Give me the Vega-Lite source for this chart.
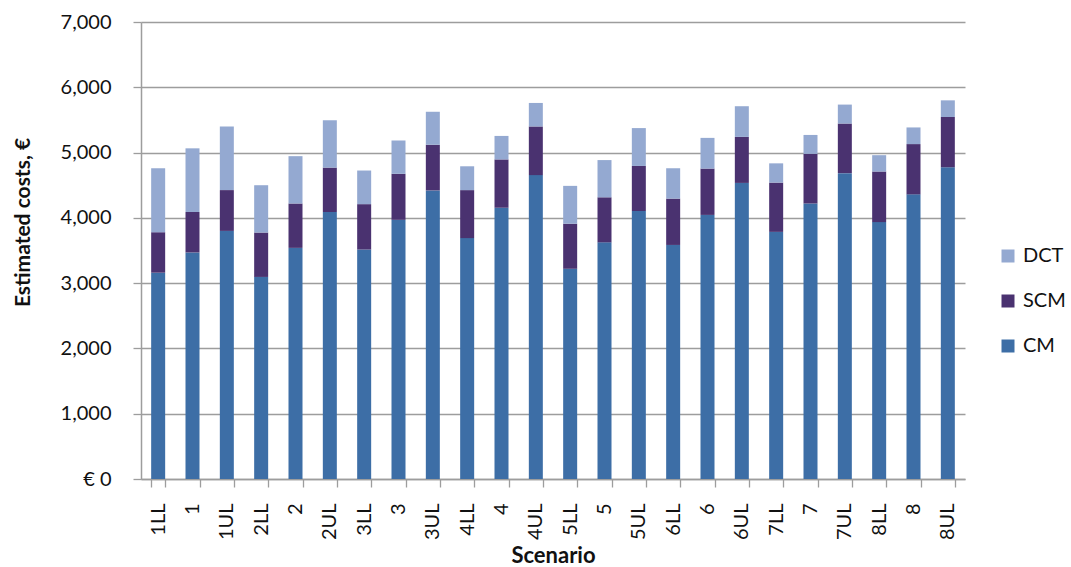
{
  "$schema": "https://vega.github.io/schema/vega-lite/v6.json",
  "width": 824,
  "height": 457,
  "autosize": {"type": "none"},
  "padding": {"left": 141, "top": 22, "right": 106, "bottom": 88},
  "background": "white",
  "config": {"view": {"stroke": null}, "font": "Lato"},
  "data": {
    "values": [
      {"scenario": "1LL", "component": "CM", "cost": 3160}, {"scenario": "1LL", "component": "SCM", "cost": 620}, {"scenario": "1LL", "component": "DCT", "cost": 980},
      {"scenario": "1", "component": "CM", "cost": 3470}, {"scenario": "1", "component": "SCM", "cost": 620}, {"scenario": "1", "component": "DCT", "cost": 975},
      {"scenario": "1UL", "component": "CM", "cost": 3800}, {"scenario": "1UL", "component": "SCM", "cost": 625}, {"scenario": "1UL", "component": "DCT", "cost": 975},
      {"scenario": "2LL", "component": "CM", "cost": 3095}, {"scenario": "2LL", "component": "SCM", "cost": 680}, {"scenario": "2LL", "component": "DCT", "cost": 725},
      {"scenario": "2", "component": "CM", "cost": 3540}, {"scenario": "2", "component": "SCM", "cost": 680}, {"scenario": "2", "component": "DCT", "cost": 725},
      {"scenario": "2UL", "component": "CM", "cost": 4090}, {"scenario": "2UL", "component": "SCM", "cost": 680}, {"scenario": "2UL", "component": "DCT", "cost": 725},
      {"scenario": "3LL", "component": "CM", "cost": 3515}, {"scenario": "3LL", "component": "SCM", "cost": 695}, {"scenario": "3LL", "component": "DCT", "cost": 515},
      {"scenario": "3", "component": "CM", "cost": 3970}, {"scenario": "3", "component": "SCM", "cost": 705}, {"scenario": "3", "component": "DCT", "cost": 510},
      {"scenario": "3UL", "component": "CM", "cost": 4420}, {"scenario": "3UL", "component": "SCM", "cost": 700}, {"scenario": "3UL", "component": "DCT", "cost": 505},
      {"scenario": "4LL", "component": "CM", "cost": 3690}, {"scenario": "4LL", "component": "SCM", "cost": 735}, {"scenario": "4LL", "component": "DCT", "cost": 365},
      {"scenario": "4", "component": "CM", "cost": 4155}, {"scenario": "4", "component": "SCM", "cost": 740}, {"scenario": "4", "component": "DCT", "cost": 360},
      {"scenario": "4UL", "component": "CM", "cost": 4655}, {"scenario": "4UL", "component": "SCM", "cost": 745}, {"scenario": "4UL", "component": "DCT", "cost": 360},
      {"scenario": "5LL", "component": "CM", "cost": 3220}, {"scenario": "5LL", "component": "SCM", "cost": 690}, {"scenario": "5LL", "component": "DCT", "cost": 580},
      {"scenario": "5", "component": "CM", "cost": 3625}, {"scenario": "5", "component": "SCM", "cost": 690}, {"scenario": "5", "component": "DCT", "cost": 570},
      {"scenario": "5UL", "component": "CM", "cost": 4105}, {"scenario": "5UL", "component": "SCM", "cost": 690}, {"scenario": "5UL", "component": "DCT", "cost": 580},
      {"scenario": "6LL", "component": "CM", "cost": 3585}, {"scenario": "6LL", "component": "SCM", "cost": 710}, {"scenario": "6LL", "component": "DCT", "cost": 465},
      {"scenario": "6", "component": "CM", "cost": 4045}, {"scenario": "6", "component": "SCM", "cost": 710}, {"scenario": "6", "component": "DCT", "cost": 470},
      {"scenario": "6UL", "component": "CM", "cost": 4535}, {"scenario": "6UL", "component": "SCM", "cost": 705}, {"scenario": "6UL", "component": "DCT", "cost": 470},
      {"scenario": "7LL", "component": "CM", "cost": 3785}, {"scenario": "7LL", "component": "SCM", "cost": 755}, {"scenario": "7LL", "component": "DCT", "cost": 295},
      {"scenario": "7", "component": "CM", "cost": 4220}, {"scenario": "7", "component": "SCM", "cost": 760}, {"scenario": "7", "component": "DCT", "cost": 290},
      {"scenario": "7UL", "component": "CM", "cost": 4685}, {"scenario": "7UL", "component": "SCM", "cost": 760}, {"scenario": "7UL", "component": "DCT", "cost": 290},
      {"scenario": "8LL", "component": "CM", "cost": 3935}, {"scenario": "8LL", "component": "SCM", "cost": 775}, {"scenario": "8LL", "component": "DCT", "cost": 250},
      {"scenario": "8", "component": "CM", "cost": 4360}, {"scenario": "8", "component": "SCM", "cost": 770}, {"scenario": "8", "component": "DCT", "cost": 255},
      {"scenario": "8UL", "component": "CM", "cost": 4775}, {"scenario": "8UL", "component": "SCM", "cost": 770}, {"scenario": "8UL", "component": "DCT", "cost": 255}
    ]
  },
  "transform": [
    {"calculate": "indexof(['CM', 'SCM', 'DCT'], datum.component)", "as": "stackRank"}
  ],
  "mark": {"type": "bar", "size": 14},
  "encoding": {
    "x": {
      "field": "scenario",
      "type": "nominal",
      "sort": ["1LL", "1", "1UL", "2LL", "2", "2UL", "3LL", "3", "3UL", "4LL", "4", "4UL", "5LL", "5", "5UL", "6LL", "6", "6UL", "7LL", "7", "7UL", "8LL", "8", "8UL"],
      "scale": {"paddingInner": 0.59, "paddingOuter": 0.295},
      "axis": {
        "title": "Scenario",
        "titleFontSize": 22,
        "titleFontWeight": "bold",
        "titleColor": "#111",
        "titleY": 83,
        "titleBaseline": "alphabetic",
        "labelAngle": -90,
        "labelFontSize": 20,
        "labelColor": "#111",
        "labelPadding": 16,
        "tickBand": "extent",
        "tickSize": 8,
        "tickColor": "#9d9d9d",
        "tickWidth": 1.3,
        "domainColor": "#9d9d9d",
        "domainWidth": 1.5,
        "grid": false
      }
    },
    "y": {
      "field": "cost",
      "type": "quantitative",
      "stack": "zero",
      "scale": {"domain": [0, 7000], "nice": false},
      "axis": {
        "title": "Estimated costs, €",
        "titleFontSize": 21,
        "titleFontWeight": "bold",
        "titleColor": "#111",
        "titleAngle": -90,
        "titleX": -118,
        "titleY": 200,
        "titleAlign": "center",
        "titleBaseline": "middle",
        "values": [0, 1000, 2000, 3000, 4000, 5000, 6000, 7000],
        "labelExpr": "datum.value == 0 ? '€ 0' : format(datum.value, ',')",
        "labelFontSize": 20,
        "labelColor": "#111",
        "labelPadding": 22,
        "tickSize": 8,
        "tickColor": "#9d9d9d",
        "tickWidth": 1.3,
        "domainColor": "#9d9d9d",
        "domainWidth": 1.5,
        "grid": true,
        "gridColor": "#9d9d9d",
        "gridWidth": 1.5
      }
    },
    "color": {
      "field": "component",
      "type": "nominal",
      "scale": {"domain": ["DCT", "SCM", "CM"], "range": ["#94A9D1", "#4A3270", "#3D6EA6"]},
      "legend": {
        "title": null,
        "orient": "none",
        "legendX": 857,
        "legendY": 224,
        "symbolType": "square",
        "symbolSize": 169,
        "symbolStrokeWidth": 0,
        "labelFontSize": 20,
        "labelColor": "#111",
        "labelOffset": 5,
        "rowPadding": 25
      }
    },
    "order": {"field": "stackRank", "type": "quantitative"}
  }
}
